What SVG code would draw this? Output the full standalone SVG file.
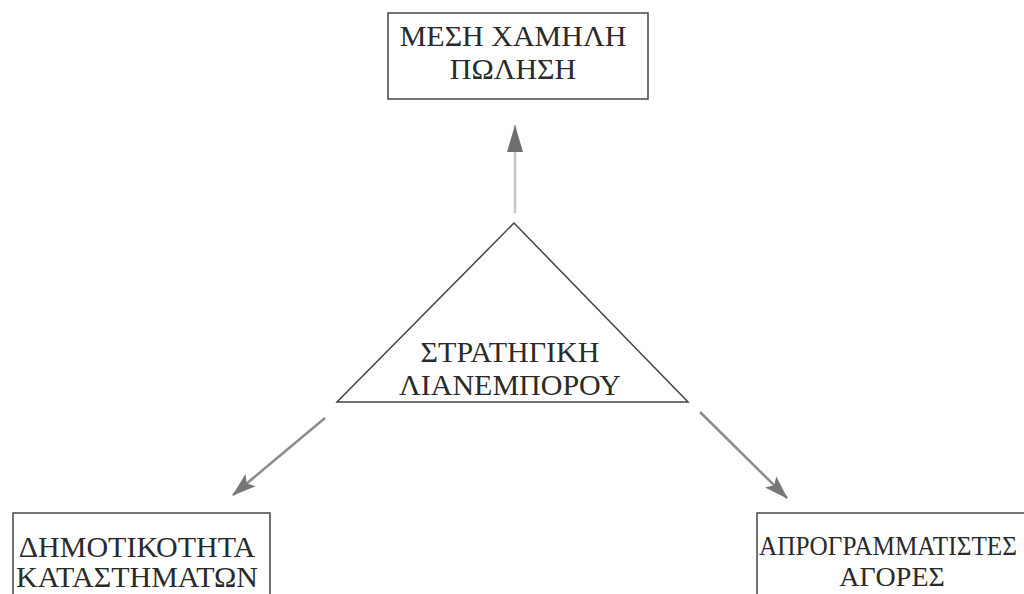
<svg xmlns="http://www.w3.org/2000/svg" width="1024" height="594" viewBox="0 0 1024 594">
<style>
.box{fill:#fff;stroke:#444;stroke-width:1.5}
.t{font-family:"Liberation Serif","Times New Roman","DejaVu Serif",serif;font-size:30px;fill:#2a2a2a;text-anchor:middle}
.s{font-size:28px}
.c{stroke:#8c8c8c;stroke-width:2.5;fill:none}
.up{stroke:#c4c4c4;stroke-width:2.5;fill:none}
</style>
<defs>
<marker id="ah" viewBox="0 0 24 16" refX="23" refY="8" markerWidth="24" markerHeight="16" orient="auto" markerUnits="userSpaceOnUse">
<path d="M0,0 L24,8 L0,16 L5,8 z" fill="#777"/>
</marker>
<marker id="ahu" viewBox="0 0 28 18" refX="27" refY="9" markerWidth="28" markerHeight="18" orient="auto" markerUnits="userSpaceOnUse">
<path d="M0,1 L27,9 L0,17 z" fill="#6e6e6e"/>
</marker>
</defs>
<rect width="1024" height="594" fill="#fff"/>
<g id="top">
<rect class="box" x="388" y="13" width="260" height="86"/>
<text class="t" x="513" y="46">ΜΕΣΗ ΧΑΜΗΛΗ</text>
<text class="t" x="513" y="79">ΠΩΛΗΣΗ</text>
</g>
<g id="center">
<polygon class="box" points="514,223 337,402 688,402"/>
<text class="t" x="510" y="362">ΣΤΡΑΤΗΓΙΚΗ</text>
<text class="t" x="510" y="395">ΛΙΑΝΕΜΠΟΡΟΥ</text>
</g>
<g id="left">
<rect class="box" x="13" y="513" width="257" height="100"/>
<text class="t" x="137" y="557">ΔΗΜΟΤΙΚΟΤΗΤΑ</text>
<text class="t" x="137" y="587">ΚΑΤΑΣΤΗΜΑΤΩΝ</text>
</g>
<g id="right">
<rect class="box" x="757" y="513" width="300" height="100"/>
<text class="t s" x="759" y="555" style="text-anchor:start" textLength="258" lengthAdjust="spacingAndGlyphs">ΑΠΡΟΓΡΑΜΜΑΤΙΣΤΕΣ</text>
<text class="t s" x="892" y="586">ΑΓΟΡΕΣ</text>
</g>
<g id="connectors">
<line class="up" x1="515" y1="213" x2="515" y2="125" marker-end="url(#ahu)"/>
<line class="c" x1="325" y1="418" x2="233" y2="495" marker-end="url(#ah)"/>
<line class="c" x1="700" y1="412" x2="787" y2="498" marker-end="url(#ah)"/>
</g>
</svg>
